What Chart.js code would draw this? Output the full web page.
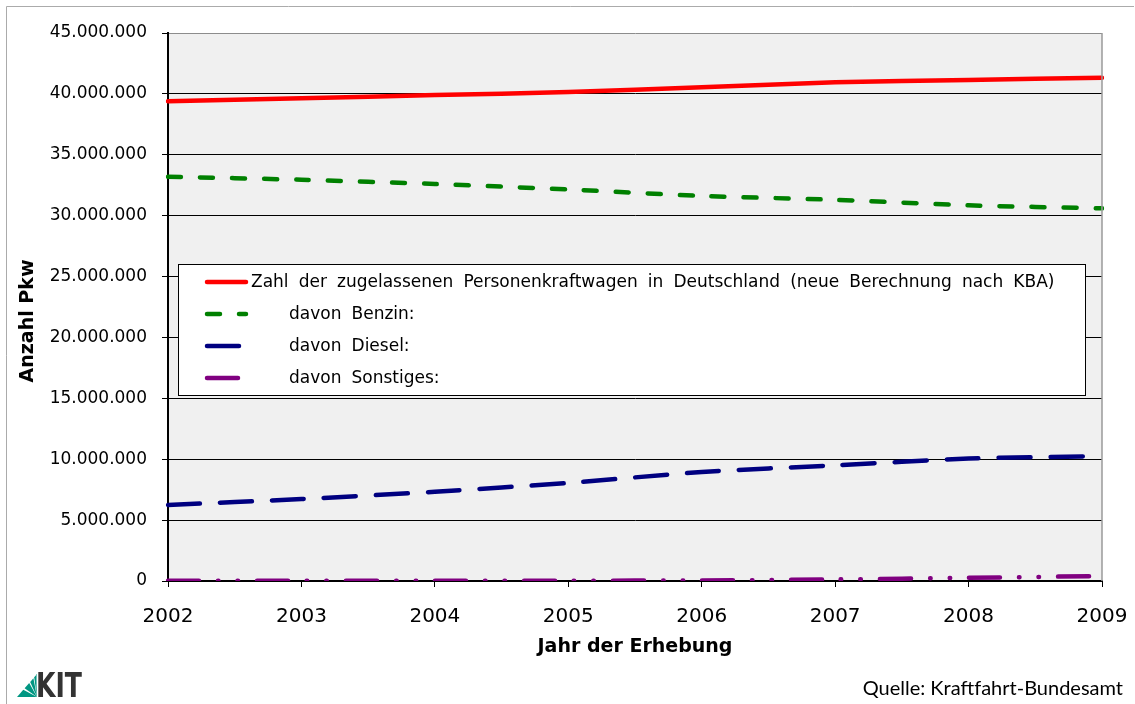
<!DOCTYPE html>
<html lang="de">
<head>
<meta charset="utf-8">
<title>Pkw-Bestand in Deutschland 2002–2009</title>
<script src="https://cdn.jsdelivr.net/npm/chart.js@4.4.1/dist/chart.umd.min.js"></script>
<style>
  html, body { margin: 0; padding: 0; background: #fff; }
  .wrap { position: relative; width: 1135px; height: 704px; overflow: hidden; }
  #pkwChart { position: absolute; left: 0; top: 0; }
  .quelle { position: absolute; right: 12px; top: 677px; font: 20px Lato, 'Open Sans', sans-serif; line-height: 20px; color: #000; white-space: nowrap; }
  .kit-logo { position: absolute; left: 15px; top: 670px; }
</style>
</head>
<body>
<div class="wrap">
  <canvas id="pkwChart" width="1135" height="704"></canvas>
  <svg class="kit-logo" width="72" height="30" viewBox="0 0 72 30">
    <g fill="#009682">
      <polygon points="22,27 2,27 8.3,19.8"/>
      <polygon points="22,27 9.6,18.3 14.2,13"/>
      <polygon points="22,27 15.2,11.9 18.4,8.2"/>
      <polygon points="22,27 19.2,7.3 20.9,5.3"/>
      <polygon points="22,27 21.4,4.6 22,3.9"/>
    </g>
    <text x="21" y="27" font-family="'DejaVu Sans', sans-serif" font-weight="bold" font-size="33" fill="#333" textLength="46" lengthAdjust="spacingAndGlyphs">KIT</text>
  </svg>
  <div class="quelle">Quelle: Kraftfahrt-Bundesamt</div>
</div>
<script>
// Pkw-Bestand nach Kraftstoffart (Stichtag jeweils 1. Januar)
const years = ['2002', '2003', '2004', '2005', '2006', '2007', '2008', '2009'];
const gesamt = [39400000, 39650000, 39900000, 40150000, 40550000, 40950000, 41150000, 41320000];
const benzin = [33200000, 32950000, 32600000, 32150000, 31620000, 31300000, 30850000, 30600000];
const diesel = [6240000, 6730000, 7330000, 8050000, 8950000, 9500000, 10050000, 10260000];
const sonstiges = [20000, 20000, 25000, 30000, 40000, 130000, 260000, 410000];
const yTicks = [0, 5000000, 10000000, 15000000, 20000000, 25000000, 30000000, 35000000, 40000000, 45000000];

const seriesLabels = [
  'Zahl der zugelassenen Personenkraftwagen in Deutschland (neue Berechnung nach KBA)',
  'davon Benzin:',
  'davon Diesel:',
  'davon Sonstiges:'
];
const yTitle = 'Anzahl Pkw';

const fmt = v => String(v).replace(/\B(?=(\d{3})+(?!\d))/g, '.');

Chart.defaults.font.family = "'DejaVu Sans', sans-serif";
Chart.defaults.color = '#000';

// grey plot background, thin outer frame and the rotated y title
const plotBackground = {
  id: 'plotBackground',
  beforeDraw(chart) {
    const { ctx, chartArea: a } = chart;
    ctx.save();
    ctx.fillStyle = '#f0f0f0';
    ctx.fillRect(a.left, a.top, a.right - a.left, a.bottom - a.top);
    ctx.strokeStyle = '#ababab';
    ctx.lineWidth = 1;
    ctx.beginPath();
    ctx.moveTo(6.5, chart.height);
    ctx.lineTo(6.5, 6.5);
    ctx.lineTo(chart.width - 1, 6.5);
    ctx.stroke();
    ctx.restore();
  },
  afterDraw(chart) {
    const { ctx, chartArea: a } = chart;
    ctx.save();
    ctx.strokeStyle = '#9a9a9a';
    ctx.lineWidth = 1.5;
    ctx.beginPath();
    ctx.moveTo(a.right, a.top);
    ctx.lineTo(a.right, a.bottom);
    ctx.stroke();

    ctx.translate(28, a.top + 288);
    ctx.rotate(-Math.PI / 2);
    ctx.font = "bold 19px 'DejaVu Sans', sans-serif";
    ctx.fillStyle = '#000';
    ctx.textAlign = 'center';
    ctx.textBaseline = 'middle';
    ctx.fillText(yTitle, 0, 0);
    ctx.restore();
  }
};

// boxed legend placed inside the plot area
const boxedLegend = {
  id: 'boxedLegend',
  afterDraw(chart) {
    const { ctx, chartArea: a } = chart;
    const x = a.left + 10, y = a.top + 231, w = 907, h = 131;
    const rowY = [18, 50, 82, 114];
    const textX = [73, 111, 111, 111];
    ctx.save();
    ctx.fillStyle = '#fff';
    ctx.fillRect(x, y, w, h);
    ctx.strokeStyle = '#000';
    ctx.lineWidth = 1;
    ctx.strokeRect(x + 0.5, y + 0.5, w, h);
    ctx.font = "17px 'DejaVu Sans', sans-serif";
    ctx.textBaseline = 'middle';
    ctx.wordSpacing = '4.7px';
    chart.data.datasets.forEach((ds, i) => {
      const ly = y + rowY[i];
      ctx.beginPath();
      ctx.strokeStyle = ds.borderColor;
      ctx.lineWidth = ds.borderWidth;
      ctx.lineCap = 'round';
      ctx.setLineDash(ds.borderDash || []);
      ctx.moveTo(x + 29, ly);
      ctx.lineTo(x + 68, ly);
      ctx.stroke();
      ctx.setLineDash([]);
      ctx.fillStyle = '#000';
      ctx.fillText(ds.label, x + textX[i], ly + 1);
    });
    ctx.restore();
  }
};

const lineStyle = {
  borderWidth: 4.5,
  pointRadius: 0,
  tension: 0.25,
  borderCapStyle: 'round',
  fill: false
};

new Chart(document.getElementById('pkwChart'), {
  type: 'line',
  data: {
    labels: years,
    datasets: [
      { ...lineStyle, label: seriesLabels[0], data: gesamt, borderColor: '#ff0000' },
      { ...lineStyle, label: seriesLabels[1], data: benzin, borderColor: '#008000', borderDash: [13, 19] },
      { ...lineStyle, label: seriesLabels[2], data: diesel, borderColor: '#000080', borderDash: [32, 20] },
      { ...lineStyle, label: seriesLabels[3], data: sonstiges, borderColor: '#800080', borderDash: [31, 19, 0.5, 19, 0.5, 19] }
    ]
  },
  options: {
    responsive: false,
    animation: false,
    devicePixelRatio: 1,
    layout: { padding: { top: 33, right: 33, left: 0, bottom: 0 } },
    plugins: {
      legend: { display: false },
      tooltip: { enabled: false }
    },
    scales: {
      x: {
        afterFit: s => {
          s.height = 123;
          s.paddingLeft = 0;
          s.paddingRight = 0;
        },
        grid: { drawOnChartArea: false, tickLength: 6, tickColor: '#000' },
        border: { color: '#000', width: 2 },
        ticks: { font: { size: 20 }, padding: 18, maxRotation: 0 },
        title: {
          display: true,
          text: 'Jahr der Erhebung',
          font: { size: 19, weight: 'bold' },
          padding: { top: 0, bottom: 46 }
        }
      },
      y: {
        min: 0,
        max: 45000000,
        afterFit: s => { s.width = 168; },
        afterBuildTicks: s => { s.ticks = yTicks.map(v => ({ value: v })); },
        grid: {
          color: c => (c.tick && c.tick.value === 45000000 ? '#8c8c8c' : '#000'),
          tickColor: '#000',
          tickLength: 6,
          lineWidth: 1
        },
        border: { color: '#000', width: 2 },
        ticks: { font: { size: 17 }, padding: 15, callback: v => fmt(v) }
      }
    }
  },
  plugins: [plotBackground, boxedLegend]
});
</script>
</body>
</html>
